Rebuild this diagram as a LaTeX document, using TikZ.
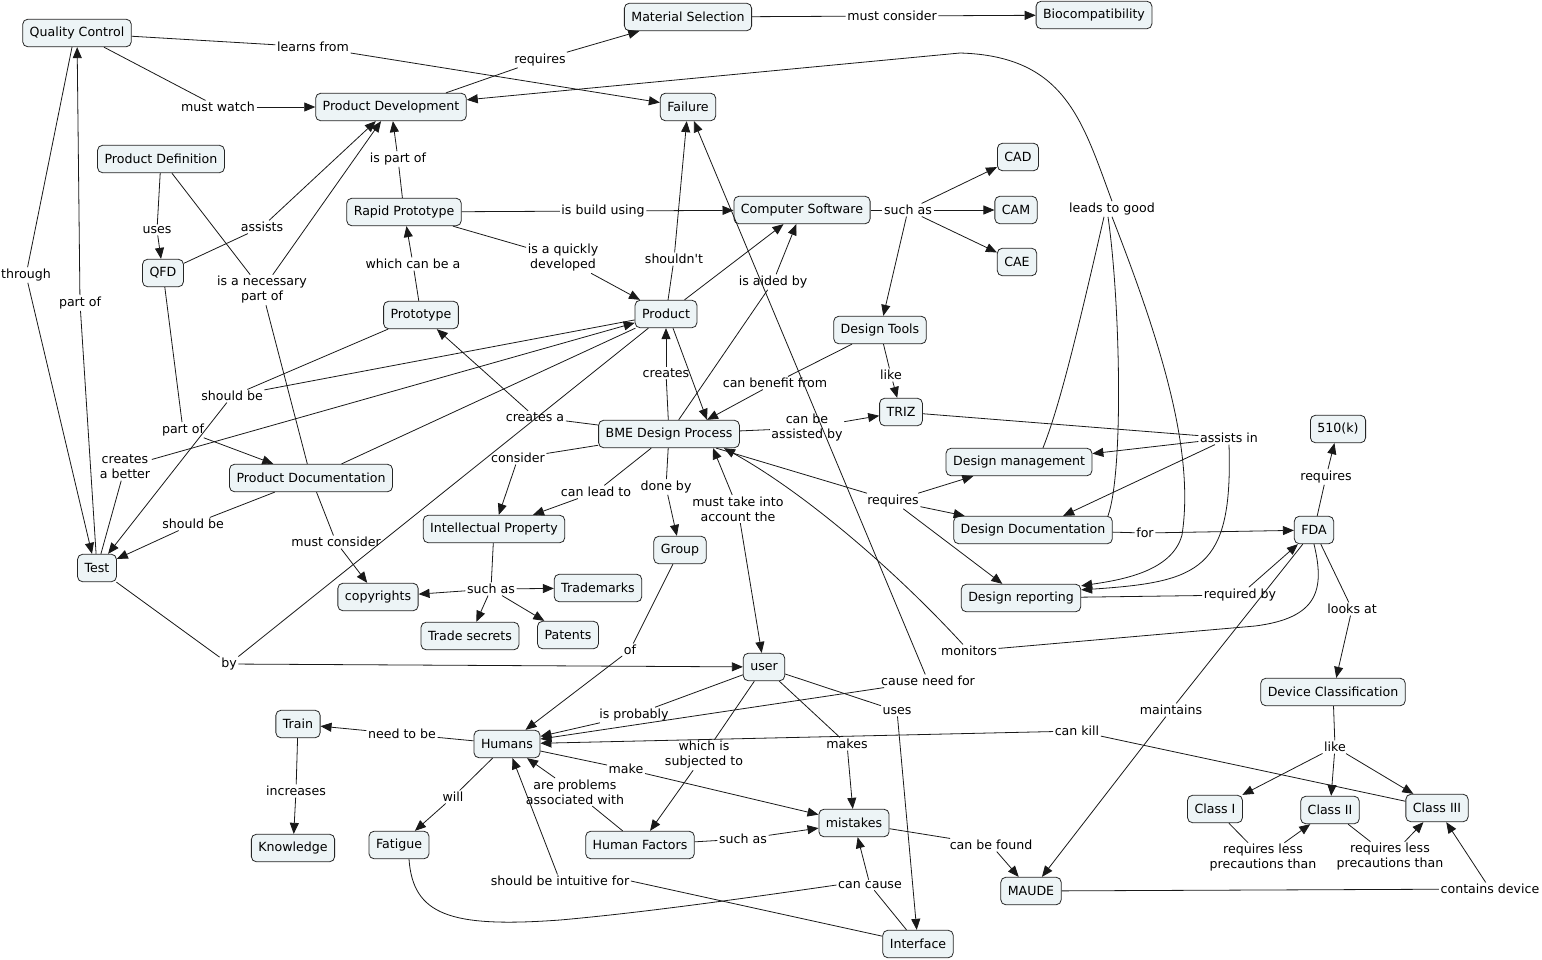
\documentclass[tikz,border=0pt]{standalone}
\usepackage{fontspec}
\setmainfont{DejaVu Sans}[Ligatures=TeXOff]
\usetikzlibrary{arrows.meta}
\definecolor{cfill}{RGB}{237,244,246}
\newcommand\cmapfont{\fontsize{12.6}{15}\selectfont}
\begin{document}
\begin{tikzpicture}[x=1pt,y=-1pt,
  concept/.style={draw=black!85, fill=cfill, rounded corners=5pt, line width=0.8pt, inner xsep=7pt, inner ysep=0pt, minimum height=27.5pt, font=\cmapfont},
  lab/.style={inner sep=1.5pt, align=center, font=\cmapfont},
  ln/.style={line width=0.8pt, draw=black!90},
  arr/.style={ln, -{Triangle[length=11pt,width=9pt]}}]
\fill[white] (0,0) rectangle (1542,959);
\useasboundingbox (0,0) rectangle (1542,959);

% concepts
\node[concept] (qc) at (77,33) {Quality Control};
\node[concept] (matsel) at (688,17) {Material Selection};
\node[concept] (bio) at (1094,15) {Biocompatibility};
\node[concept] (pdev) at (391,107) {Product Development};
\node[concept] (fail) at (688,107) {Failure};
\node[concept] (pdef) at (161,159) {Product Definition};
\node[concept] (rp) at (404,212) {Rapid Prototype};
\node[concept] (cs) at (802,210) {Computer Software};
\node[concept] (cad) at (1018,157) {CAD};
\node[concept] (cam) at (1016,210) {CAM};
\node[concept] (cae) at (1017,262) {CAE};
\node[concept] (qfd) at (163,273) {QFD};
\node[concept] (proto) at (421,315) {Prototype};
\node[concept] (prod) at (666,314) {Product};
\node[concept] (dtools) at (880,330) {Design Tools};
\node[concept] (triz) at (901,412) {TRIZ};
\node[concept] (bme) at (669,434) {BME Design Process};
\node[concept] (dm) at (1019,462) {Design management};
\node[concept] (k510) at (1338,429) {510(k)};
\node[concept] (pdoc) at (311,478) {Product Documentation};
\node[concept] (ddoc) at (1033,530) {Design Documentation};
\node[concept] (fda) at (1314,530) {FDA};
\node[concept] (ip) at (494,529) {Intellectual Property};
\node[concept] (group) at (680,550) {Group};
\node[concept] (test) at (97,568) {Test};
\node[concept] (copy) at (378,597) {copyrights};
\node[concept] (tm) at (598,588) {Trademarks};
\node[concept] (ts) at (470,636) {Trade secrets};
\node[concept] (pat) at (568,635) {Patents};
\node[concept] (drep) at (1021,598) {Design reporting};
\node[concept] (user) at (764,667) {user};
\node[concept] (devc) at (1333,692) {Device Classification};
\node[concept] (train) at (298,724) {Train};
\node[concept] (humans) at (507,744) {Humans};
\node[concept] (c1) at (1215,809) {Class I};
\node[concept] (c2) at (1330,810) {Class II};
\node[concept] (c3) at (1437,808) {Class III};
\node[concept] (mist) at (854,823) {mistakes};
\node[concept] (fatigue) at (399,845) {Fatigue};
\node[concept] (hf) at (640,845) {Human Factors};
\node[concept] (know) at (293,848) {Knowledge};
\node[concept] (maude) at (1031,891) {MAUDE};
\node[concept] (iface) at (918,944) {Interface};

% linking phrases
\node[lab] (l_learns) at (313,47) {learns from};
\node[lab] (l_watch) at (218,107) {must watch};
\node[lab] (l_req1) at (540,60) {requires};
\node[lab] (l_mc1) at (892,16) {must consider};
\node[lab] (l_ltg) at (1112,209) {leads to good};
\node[lab] (l_ispart) at (398,159) {is part of};
\node[lab] (l_uses1) at (157,230) {uses};
\node[lab] (l_assists) at (262,227) {assists};
\node[lab] (l_necess) at (262,290) {is a necessary\\part of};
\node[lab] (l_build) at (603,211) {is build using};
\node[lab] (l_quick) at (563,258) {is a quickly\\developed};
\node[lab] (l_whichcan) at (413,264) {which can be a};
\node[lab] (l_shouldnt) at (674,259) {shouldn't};
\node[lab] (l_suchas1) at (908,210) {such as};
\node[lab] (l_aided) at (773,282) {is aided by};
\node[lab] (l_through) at (26,275) {through};
\node[lab] (l_partof1) at (80,303) {part of};
\node[lab] (l_like1) at (891,375) {like};
\node[lab] (l_benefit) at (775,383) {can benefit from};
\node[lab] (l_creates) at (666,373) {creates};
\node[lab] (l_shouldbe1) at (232,396) {should be};
\node[lab] (l_partof2) at (183,430) {part of};
\node[lab] (l_createsa) at (535,417) {creates a};
\node[lab] (l_assisted) at (807,428) {can be\\assisted by};
\node[lab] (l_assistsin) at (1229,438) {assists in};
\node[lab] (l_consider) at (518,458) {consider};
\node[lab] (l_better) at (125,467) {creates\\a better};
\node[lab] (l_req2) at (893,501) {requires};
\node[lab] (l_req3) at (1326,477) {requires};
\node[lab] (l_canlead) at (596,492) {can lead to};
\node[lab] (l_doneby) at (666,487) {done by};
\node[lab] (l_musttake) at (738,509) {must take into\\account the};
\node[lab] (l_for) at (1145,533) {for};
\node[lab] (l_shouldbe2) at (193,524) {should be};
\node[lab] (l_mc2) at (336,542) {must consider};
\node[lab] (l_suchas2) at (491,589) {such as};
\node[lab] (l_reqby) at (1240,595) {required by};
\node[lab] (l_looks) at (1352,609) {looks at};
\node[lab] (l_of) at (630,650) {of};
\node[lab] (l_monitors) at (969,651) {monitors};
\node[lab] (l_by) at (229,664) {by};
\node[lab] (l_causeneed) at (928,681) {cause need for};
\node[lab] (l_prob) at (634,715) {is probably};
\node[lab] (l_uses2) at (897,711) {uses};
\node[lab] (l_maint) at (1171,710) {maintains};
\node[lab] (l_kill) at (1077,731) {can kill};
\node[lab] (l_needto) at (402,734) {need to be};
\node[lab] (l_makes) at (847,744) {makes};
\node[lab] (l_subj) at (704,755) {which is\\subjected to};
\node[lab] (l_like2) at (1335,747) {like};
\node[lab] (l_make) at (626,769) {make};
\node[lab] (l_incr) at (296,791) {increases};
\node[lab] (l_will) at (453,797) {will};
\node[lab] (l_problems) at (575,792) {are problems\\associated with};
\node[lab] (l_suchas3) at (743,839) {such as};
\node[lab] (l_found) at (991,845) {can be found};
\node[lab] (l_rl1) at (1263,858) {requires less\\precautions than};
\node[lab] (l_rl2) at (1390,857) {requires less\\precautions than};
\node[lab] (l_intuitive) at (560,881) {should be intuitive for};
\node[lab] (l_cancause) at (870,885) {can cause};
\node[lab] (l_contains) at (1490,889) {contains device};

% connectors
\draw[ln] (qc) -- (l_learns); \draw[arr] (l_learns) -- (fail);
\draw[ln] (qc) -- (l_watch); \draw[arr] (l_watch) -- (pdev);
\draw[ln] ([xshift=55pt]pdev.north) -- (l_req1); \draw[arr] (l_req1) -- (matsel);
\draw[ln] (matsel) -- (l_mc1); \draw[arr] (l_mc1) -- (bio);
\draw[ln] (pdef) -- (l_uses1); \draw[arr] (l_uses1) -- (qfd);
\draw[ln] (pdef) -- (l_necess); \draw[ln] (pdoc) -- (l_necess); \draw[arr] (l_necess) -- (pdev);
\draw[ln] (qfd) -- (l_assists); \draw[arr] (l_assists) -- (pdev);
\draw[ln] (qfd) -- (l_partof2); \draw[arr] (l_partof2) -- (pdoc);
\draw[ln] (rp) -- (l_ispart); \draw[arr] (l_ispart) -- (pdev);
\draw[ln] (rp) -- (l_build); \draw[arr] (l_build) -- (cs);
\draw[ln] (rp) -- (l_quick); \draw[arr] (l_quick) -- (prod);
\draw[ln] (proto) -- (l_whichcan); \draw[arr] (l_whichcan) -- (rp);
\draw[ln] (cs) -- (l_suchas1);
\draw[arr] (l_suchas1) -- (cad); \draw[arr] (l_suchas1) -- (cam);
\draw[arr] (l_suchas1) -- (cae); \draw[arr] (l_suchas1) -- (dtools);
\draw[ln] (dtools) -- (l_like1); \draw[arr] (l_like1) -- (triz);
\draw[ln] (dtools) -- (l_benefit); \draw[arr] (l_benefit) -- ([xshift=38pt]bme.north);
\draw[ln] (prod) -- (l_shouldnt); \draw[arr] (l_shouldnt) -- (fail);
\draw[arr] (prod) -- (cs);
\draw[arr] ([xshift=7pt]prod.south) -- ([xshift=38pt]bme.north);
\draw[ln] (bme) -- (l_aided); \draw[arr] (l_aided) -- (cs);
\draw[ln] (bme) -- (l_creates); \draw[arr] (l_creates) -- (prod);
\draw[ln] (bme) -- (l_createsa); \draw[arr] (l_createsa) -- (proto);
\draw[ln] (proto) -- (l_shouldbe1); \draw[ln] (prod) -- (l_shouldbe1); \draw[arr] (l_shouldbe1) -- (test);
\draw[ln] (test) -- (l_better); \draw[arr] (l_better) -- (prod);
\draw[ln] (pdoc) -- (prod);
\draw[ln] (pdoc) -- (l_shouldbe2); \draw[arr] (l_shouldbe2) -- (test);
\draw[ln] ([xshift=-5pt]qc.south) -- (l_through); \draw[arr] (l_through) -- ([xshift=-5pt]test.north);
\draw[ln] (test) -- (l_partof1); \draw[arr] (l_partof1) -- (qc);
\draw[ln] (test) -- (l_by); \draw[ln] (prod) -- (l_by); \draw[arr] (l_by) -- (user);
\draw[ln] (bme) -- (l_consider); \draw[arr] (l_consider) -- (ip);
\draw[ln] (bme) -- (l_canlead); \draw[arr] (l_canlead) -- (ip);
\draw[ln] (bme) -- (l_doneby); \draw[arr] (l_doneby) -- (group);
\draw[arr] (l_musttake) -- ([xshift=44pt]bme.south); \draw[arr] (l_musttake) -- (user);
\draw[ln] (bme) -- (l_assisted); \draw[arr] (l_assisted) -- (triz);
\draw[ln] (bme) -- (l_req2);
\draw[arr] (l_req2) -- (dm); \draw[arr] (l_req2) -- (ddoc); \draw[arr] (l_req2) -- (drep);
\draw[ln] (fda.south) .. controls (1325,590) and (1318,618) .. (1255,626) -- (l_monitors);
\draw[arr] (l_monitors) .. controls (890,565) and (800,490) .. ([xshift=55pt]bme.south);
\draw[ln] (triz) -- (l_assistsin);
\draw[arr] (l_assistsin) -- (dm); \draw[arr] (l_assistsin) -- (ddoc);
\draw[arr] (l_assistsin.south) .. controls (1233,570) and (1200,582) .. ([yshift=-6pt]drep.north east);
\draw[ln] ([xshift=24pt]dm.north) .. controls (1060,405) and (1078,330) .. ([xshift=-8pt]l_ltg.south);
\draw[ln] ([xshift=75pt]ddoc.north) .. controls (1124,470) and (1120,300) .. ([xshift=-4pt]l_ltg.south);
\draw[arr] (l_ltg.south) .. controls (1160,340) and (1195,450) .. (1182,535) .. controls (1172,572) and (1120,580) .. ([yshift=-2pt]drep.north east);
\draw[arr] (l_ltg.north) .. controls (1082,120) and (1065,56) .. (960,53) -- (pdev);
\draw[ln] (ddoc) -- (l_for); \draw[arr] (l_for) -- (fda);
\draw[ln] (drep) -- (l_reqby); \draw[arr] (l_reqby) -- (fda);
\draw[ln] (fda) -- (l_req3); \draw[arr] (l_req3) -- (k510);
\draw[ln] (fda) -- (l_looks); \draw[arr] (l_looks) -- (devc);
\draw[ln] (fda) -- (l_maint); \draw[arr] (l_maint) -- (maude);
\draw[ln] (devc) -- (l_like2);
\draw[arr] (l_like2) -- (c1); \draw[arr] (l_like2) -- (c2); \draw[arr] (l_like2) -- (c3);
\draw[ln] (c1) -- (l_rl1); \draw[arr] (l_rl1) -- (c2);
\draw[ln] (c2) -- (l_rl2); \draw[arr] (l_rl2) -- (c3);
\draw[ln] (maude) -- (l_contains); \draw[arr] (l_contains) -- (c3);
\draw[ln] (mist) -- (l_found); \draw[arr] (l_found) -- (maude);
\draw[ln] (iface) -- (l_cancause);
\draw[ln] ([xshift=10pt]fatigue.south) .. controls (413,915) and (450,928) .. (560,920) .. controls (650,912) and (760,896) .. (l_cancause.west);
\draw[arr] (l_cancause) -- (mist);
\draw[ln] (iface) -- (l_intuitive.east); \draw[arr] (l_intuitive) -- (humans);
\draw[ln] (humans) -- (l_needto); \draw[arr] (l_needto) -- (train);
\draw[ln] (train) -- (l_incr); \draw[arr] (l_incr) -- (know);
\draw[ln] (humans) -- (l_will); \draw[arr] (l_will) -- (fatigue);
\draw[ln] (humans) -- (l_make); \draw[arr] (l_make) -- (mist);
\draw[ln] (hf) -- (l_problems); \draw[arr] (l_problems) -- (humans);
\draw[ln] (hf) -- (l_suchas3); \draw[arr] (l_suchas3) -- (mist);
\draw[ln] (user) -- (l_prob); \draw[arr] (l_prob) -- (humans);
\draw[ln] (user) -- (l_subj); \draw[arr] (l_subj) -- (hf);
\draw[ln] (user) -- (l_makes); \draw[arr] (l_makes) -- (mist);
\draw[ln] (user) -- (l_uses2); \draw[arr] (l_uses2) -- (iface);
\draw[ln] (group) -- (l_of); \draw[arr] (l_of) -- (humans);
\draw[ln] (c3) -- (l_kill); \draw[arr] (l_kill) -- (humans);
\draw[arr] (l_causeneed) -- (fail); \draw[arr] (l_causeneed) -- (humans);
\draw[ln] (ip) -- (l_suchas2);
\draw[arr] (l_suchas2) -- (tm); \draw[arr] (l_suchas2) -- (ts);
\draw[arr] (l_suchas2) -- (pat); \draw[arr] (l_suchas2) -- (copy);
\draw[ln] (pdoc) -- (l_mc2); \draw[arr] (l_mc2) -- (copy);
\end{tikzpicture}
\end{document}
